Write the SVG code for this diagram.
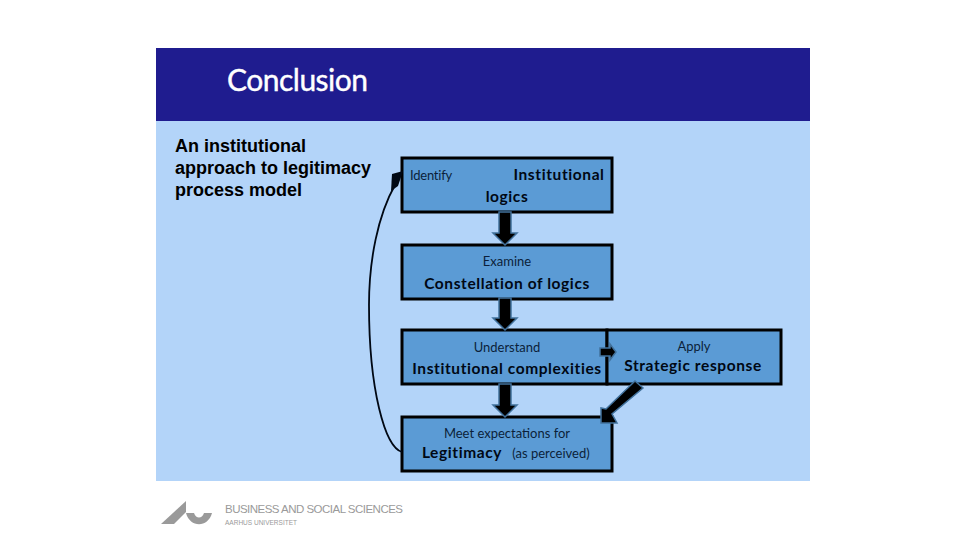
<svg xmlns="http://www.w3.org/2000/svg" width="960" height="540" viewBox="0 0 960 540">
<style>
.box{fill:#5b9bd5;stroke:#000;stroke-width:3}
.arr{fill:#000;stroke:#41719c;stroke-width:1.5;stroke-linejoin:miter}
.sm{font:13px Lato,"Open Sans",sans-serif;fill:#0b1f3a;text-anchor:middle}
.bg{font:bold 15.5px Lato,"Open Sans",sans-serif;fill:#000814;text-anchor:middle;letter-spacing:.6px}
.ttl{font:30px Lato,"Open Sans",sans-serif;fill:#fff;letter-spacing:-.5px;stroke:#fff;stroke-width:.4}
.sub{font:bold 18px "Liberation Sans",Arial,sans-serif;fill:#000}
</style>
<rect width="960" height="540" fill="#fff"/>
<rect x="156" y="121" width="654" height="360" fill="#b3d4f9"/>
<rect x="156" y="48" width="654" height="73" fill="#1f1c8f"/>
<text class="ttl" x="227" y="91">Conclusion</text>
<text class="sub"><tspan x="175" y="152">An institutional</tspan><tspan x="175" y="174">approach to legitimacy</tspan><tspan x="175" y="196">process model</tspan></text>
<g id="node-identify"><rect class="box" x="402" y="158" width="210" height="54"/>
<text class="sm" x="431" y="180" style="letter-spacing:-.2px">Identify</text>
<text class="bg" x="559" y="180">Institutional</text><text class="bg" x="507" y="202">logics</text></g>
<g id="node-examine"><rect class="box" x="402" y="245" width="210" height="54"/>
<text class="sm" x="507" y="266">Examine</text><text class="bg" x="507" y="289">Constellation of logics</text></g>
<g id="node-understand"><rect class="box" x="402" y="330" width="205" height="54"/>
<text class="sm" x="507" y="352">Understand</text><text class="bg" x="507" y="374">Institutional complexities</text></g>
<g id="node-apply"><rect class="box" x="607" y="330" width="174" height="54"/>
<text class="sm" x="694" y="351">Apply</text><text class="bg" x="693" y="371">Strategic response</text></g>
<g id="node-legitimacy"><rect class="box" x="402" y="417" width="210" height="54"/>
<text class="sm" x="507" y="438">Meet expectations for</text>
<text class="bg" x="462" y="458">Legitimacy</text><text class="sm" x="551" y="458">(as perceived)</text></g>
<g id="connectors">
<path class="arr" d="M499 212H511V233H517L505 245L493 233H499Z"/>
<path class="arr" d="M499 298H511V318H517L505 330L493 318H499Z"/>
<path class="arr" d="M499 384H511V405H517L505 417L493 405H499Z"/>
<path class="arr" d="M600 348H610V344L616 352L610 360V356H600Z"/>
<path class="arr" d="M635 381L643 388L612 414L617 423L601 423L601 408L606 409Z"/>
<path d="M402 452C385 447 369 390 369 305C369 260 378 215 395 185" fill="none" stroke="#000814" stroke-width="1.8"/>
<path d="M403 171L392 174L391 191L398 186Z" fill="#000814"/>
</g>
<g id="logo">
<path d="M161 524L186 501V512L174 524Z" fill="#9a9a9a"/>
<path d="M186 513H194C196 519 202 519 204 513H212C208 528 190 528 186 513Z" fill="#9a9a9a"/>
<text x="225" y="513" font-family="Liberation Sans,Arial,sans-serif" font-size="11.5" fill="#9a9a9a" textLength="178">BUSINESS AND SOCIAL SCIENCES</text>
<text x="225" y="525" font-family="Liberation Sans,Arial,sans-serif" font-size="6.5" fill="#9a9a9a" textLength="72">AARHUS UNIVERSITET</text>
</g>
</svg>
